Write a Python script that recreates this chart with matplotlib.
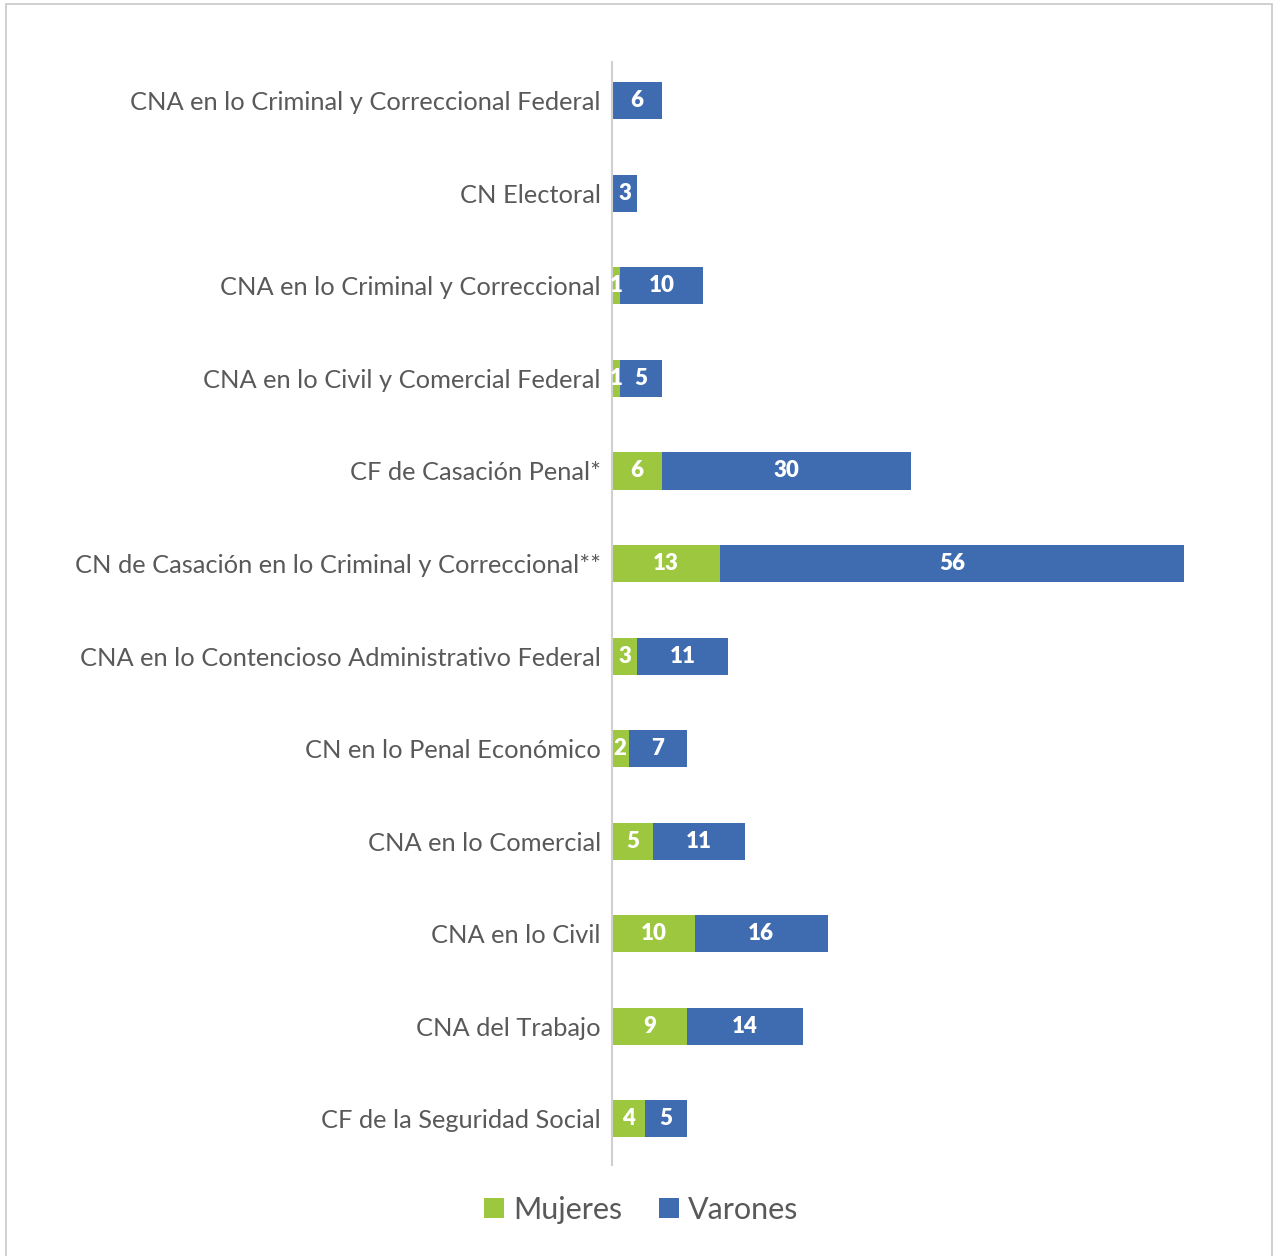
import matplotlib.pyplot as plt
from matplotlib.patches import Rectangle
import numpy as np

# Datos (de arriba hacia abajo)
camaras = ['CNA en lo Criminal y Correccional Federal', 'CN Electoral',
           'CNA en lo Criminal y Correccional', 'CNA en lo Civil y Comercial Federal',
           'CF de Casación Penal*', 'CN de Casación en lo Criminal y Correccional**',
           'CNA en lo Contencioso Administrativo Federal', 'CN en lo Penal Económico',
           'CNA en lo Comercial', 'CNA en lo Civil', 'CNA del Trabajo',
           'CF de la Seguridad Social']
mujeres = [0, 0, 1, 1, 6, 13, 3, 2, 5, 10, 9, 4]
varones = [6, 3, 10, 5, 30, 56, 11, 7, 11, 16, 14, 5]

verde = '#9DC73E'
azul = '#3F6BB0'
gris = '#595959'

plt.rcParams['font.family'] = ['Lato', 'DejaVu Sans']

fig = plt.figure(figsize=(12.77, 12.56), dpi=100)
ax = fig.add_axes([612/1277, 1 - 1165/1256, 622/1277, (1165-62)/1256])

y = np.arange(len(camaras))
b1 = ax.barh(y, mujeres, height=0.4, color=verde, label='Mujeres')
b2 = ax.barh(y, varones, left=mujeres, height=0.4, color=azul, label='Varones')

# etiquetas de valores
for i in range(len(camaras)):
    if mujeres[i] > 0:
        ax.text(mujeres[i] / 2, y[i], str(mujeres[i]), ha='center', va='center',
                color='white', fontsize=16, fontweight='heavy')
    ax.text(mujeres[i] + varones[i] / 2, y[i], str(varones[i]), ha='center', va='center',
            color='white', fontsize=16, fontweight='heavy')

ax.set_xlim(0, 75)
ax.set_ylim(11.5, -0.42)
ax.set_yticks(y)
ax.set_yticklabels(camaras, fontsize=18.3, color=gris)
ax.tick_params(axis='y', length=0, pad=8)
ax.set_xticks([])
for s in ['top', 'right', 'bottom']:
    ax.spines[s].set_visible(False)
ax.spines['left'].set_color('#D0D0D0')
ax.spines['left'].set_linewidth(1.5)

fig.legend(handles=[b1, b2], loc='center', bbox_to_anchor=(641/1277, 1 - 1210/1256),
           ncol=2, frameon=False, fontsize=22, labelcolor=gris,
           handlelength=0.65, handleheight=0.65, handletextpad=0.3, columnspacing=1.2)

# borde del gráfico
fig.patches.append(Rectangle((6/1277, -0.01), 1266/1277, 1 - 4/1256 + 0.01,
                             transform=fig.transFigure, fill=False,
                             edgecolor='#C8C8C8', linewidth=1.2))

fig.savefig('out.png', dpi=100)
